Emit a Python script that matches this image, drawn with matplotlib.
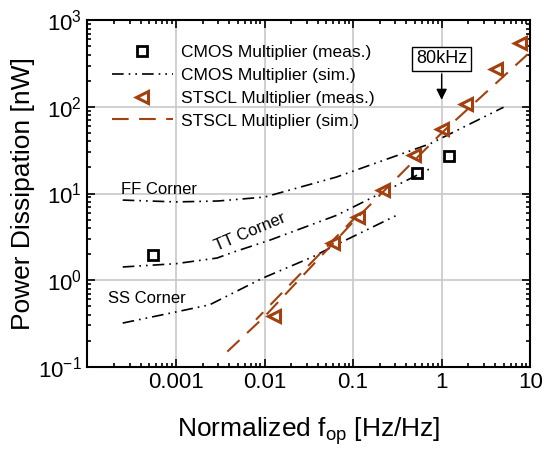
import matplotlib
matplotlib.use("Agg")
import matplotlib.pyplot as plt

plt.rcParams['font.family'] = ['Liberation Sans', 'DejaVu Sans']
plt.rcParams['mathtext.default'] = 'regular'

# CMOS multiplier, measured
cmos_meas_x = [0.00055, 0.52, 1.2]
cmos_meas_y = [1.95, 17.4, 27]

# CMOS multiplier, simulated corners
ff_x = [0.00025, 0.001, 0.003, 0.01, 0.065, 0.74, 5.0]
ff_y = [8.4, 8.0, 8.2, 9.1, 15.5, 37.5, 99]
tt_x = [0.00025, 0.001, 0.0029, 0.0044, 0.0115, 0.065, 0.79]
tt_y = [1.42, 1.55, 1.8, 2.1, 2.9, 5.6, 20]
ss_x = [0.00025, 0.001, 0.0024, 0.0096, 0.035, 0.07, 0.31]
ss_y = [0.32, 0.43, 0.52, 1.06, 1.86, 2.67, 5.6]

# STSCL multiplier, measured
st_meas_x = [0.0127, 0.059, 0.113, 0.217, 0.49, 1.0, 1.9, 4.1, 7.7]
st_meas_y = [0.39, 2.65, 5.4, 10.9, 27.5, 56, 107, 270, 545]

# STSCL multiplier, simulated
st_sim_x = [0.0038, 0.01, 0.1, 1, 10]
st_sim_y = [0.15, 0.38, 4.7, 50, 430]
st_sim2_x = [0.008, 0.13]
st_sim2_y = [0.35, 6.6]

brown = '#a3400f'
dashdotdot = (0, (7, 3, 1, 3, 1, 3))

fig = plt.figure(figsize=(5.5, 4.49), dpi=100)
ax = fig.add_axes([0.159, 0.183, 0.805, 0.772])

ax.plot(cmos_meas_x, cmos_meas_y, ls='none', marker='s', ms=7, mfc='white',
        mec='black', mew=2, label='CMOS Multiplier (meas.)')
ax.plot(ff_x, ff_y, color='black', lw=1.2, ls=dashdotdot, label='CMOS Multiplier (sim.)')
ax.plot(tt_x, tt_y, color='black', lw=1.2, ls=dashdotdot)
ax.plot(ss_x, ss_y, color='black', lw=1.2, ls=dashdotdot)
ax.plot(st_meas_x, st_meas_y, ls='none', marker='<', ms=8, mfc='white',
        mec=brown, mew=2.2, label='STSCL Multiplier (meas.)')
ax.plot(st_sim_x, st_sim_y, color=brown, lw=1.5, ls=(0, (8, 5)), label='STSCL Multiplier (sim.)')
ax.plot(st_sim2_x, st_sim2_y, color=brown, lw=1.5, ls=(3, (8, 5)))

ax.set_xscale('log')
ax.set_yscale('log')
ax.set_xlim(1e-4, 10)
ax.set_ylim(0.1, 1000)
ax.set_xticks([0.001, 0.01, 0.1, 1, 10])
ax.set_xticklabels(['0.001', '0.01', '0.1', '1', '10'])
ax.set_yticks([0.1, 1, 10, 100, 1000])
ax.set_yticklabels(['$10^{-1}$', '$10^{0}$', '$10^{1}$', '$10^{2}$', '$10^{3}$'])
ax.tick_params(which='both', direction='in', top=True, right=True, width=1.2)
ax.tick_params(which='major', length=6, labelsize=16, pad=4)
ax.tick_params(which='minor', length=3)
ax.grid(True, which='major', color='#c8c8c8', lw=1.2)
ax.set_axisbelow(True)
for s in ax.spines.values():
    s.set_linewidth(1.5)

ax.set_xlabel('Normalized f$_{op}$ [Hz/Hz]', fontsize=19, labelpad=16)
ax.set_ylabel('Power Dissipation [nW]', fontsize=19, labelpad=2)

ax.text(0.00024, 9.0, 'FF Corner', fontsize=12, va='bottom')
ax.text(0.0068, 3.6, 'TT Corner', fontsize=12, ha='center', va='center', rotation=23)
ax.text(0.00017, 0.62, 'SS Corner', fontsize=12, va='center')

ax.annotate('80kHz', xy=(1, 112), xytext=(1, 360), ha='center', va='center', fontsize=13,
            bbox=dict(boxstyle='square,pad=0.2', fc='white', ec='black', lw=1),
            arrowprops=dict(arrowstyle='-|>', color='black', lw=1, mutation_scale=16))

ax.legend(loc='upper left', bbox_to_anchor=(0.02, 0.975), frameon=False, fontsize=12.5,
          handlelength=3.5, labelspacing=0.45, handletextpad=0.5)

fig.savefig('out.png', dpi=100)
